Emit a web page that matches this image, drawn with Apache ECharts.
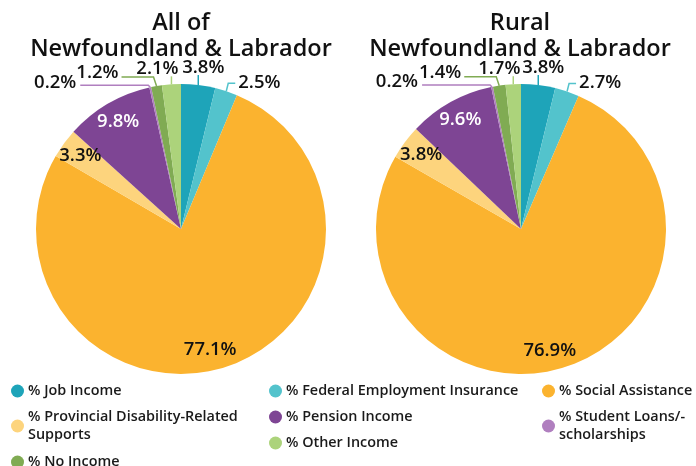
<!DOCTYPE html>
<html>
<head>
<meta charset="utf-8">
<script src="https://cdn.jsdelivr.net/npm/echarts@6/dist/echarts.min.js"></script>
<style>
  html, body { margin: 0; padding: 0; background: #fff; }
  #chart { width: 696px; height: 466px; }
</style>
</head>
<body>
<div id="chart"></div>
<script>
// Income source shares (percent of people) for two regions
const categories = [
  '% Job Income',
  '% Federal Employment Insurance',
  '% Social Assistance',
  '% Provincial Disability-Related Supports',
  '% Pension Income',
  '% Student Loans/-scholarships',
  '% No Income',
  '% Other Income'
];
const allNL = [3.8, 2.5, 77.1, 3.3, 9.8, 0.2, 1.2, 2.1];
const ruralNL = [3.8, 2.7, 76.9, 3.8, 9.6, 0.2, 1.4, 1.7];
const titles = ['All of\nNewfoundland & Labrador', 'Rural\nNewfoundland & Labrador'];

const colors = ['#1ea4b9', '#53c3cc', '#fbb32f', '#fdd47d', '#7e4594', '#b07fbf', '#80ab53', '#acd37b'];
const legendText = {
  '% Provincial Disability-Related Supports': '% Provincial Disability-Related\nSupports',
  '% Student Loans/-scholarships': '% Student Loans/-\nscholarships'
};

const FONT = '"Open Sans", "Noto Sans", sans-serif';
const R = 145;
const centers = [[181, 229], [521, 229]];
const titleX = [176, 515];
const seriesValues = [allNL, ruralNL];

// labels drawn inside the big slices: radial position and small angular nudge (degrees)
const insideStyle = {
  2: { ratio: 0.86, turn: 5 },
  3: { ratio: 0.86, turn: 0 },
  4: { ratio: 0.86, turn: 0 }
};

// leader-line styling for the small outer slices:
// rise = vertical run from the rim, dir/len = horizontal run, then label placement
const calloutStyle = {
  0: { rise: 10, slant: 0, dir: 0, len: 0, dx: 5, dy: 2, align: 'center', va: 'bottom' },
  1: { rise: 8, slant: 2, dir: 1, len: 7, dx: 3, dy: -1, align: 'left', va: 'middle' },
  5: { rise: 2, slant: -2, dir: -1, len: 68, dx: -4, dy: -3, align: 'right', va: 'middle' },
  6: { rise: 9, slant: -3, dir: -1, len: 32, dx: -3, dy: -4, align: 'right', va: 'middle' },
  7: { rise: 8, slant: 0, dir: 0, len: 0, dx: -14, dy: 2, align: 'center', va: 'bottom' }
};

function midAngle(vals, i) {
  const total = vals.reduce((a, b) => a + b, 0);
  let before = 0;
  for (let k = 0; k < i; k++) before += vals[k];
  return (before + vals[i] / 2) / total * Math.PI * 2;
}

function makeSeries(vals, s) {
  return {
    type: 'pie',
    center: centers[s],
    radius: R,
    startAngle: 90,
    clockwise: true,
    avoidLabelOverlap: false,
    animation: false,
    data: categories.map((name, i) => {
      const inside = insideStyle[i] !== undefined;
      return {
        name: name,
        value: vals[i],
        itemStyle: { color: colors[i] },
        label: inside ? {
          position: 'inside',
          color: i === 4 ? '#ffffff' : '#111111'
        } : { position: 'outside', color: '#111111' },
        labelLine: inside ? { show: false } : {
          show: true,
          length: 8,
          length2: 10,
          lineStyle: { color: colors[i], width: 1.5 }
        }
      };
    }),
    label: {
      show: true,
      formatter: p => p.value.toFixed(1) + '%',
      fontFamily: FONT,
      fontSize: 18.5,
      fontWeight: 600
    },
    labelLayout: function (p) {
      const i = p.dataIndex;
      const a = midAngle(seriesValues[s], i);
      const c = centers[s];
      const ins = insideStyle[i];
      if (ins) {
        const b = a + ins.turn * Math.PI / 180;
        return {
          x: c[0] + R * ins.ratio * Math.sin(b),
          y: c[1] - R * ins.ratio * Math.cos(b)
        };
      }
      const st = calloutStyle[i];
      const ex = c[0] + R * Math.sin(a);
      const ey = c[1] - R * Math.cos(a);
      const kx = ex + st.slant;
      const ky = ey - st.rise;
      const tx = kx + st.dir * st.len;
      const ty = ky;
      return {
        x: tx + st.dx,
        y: ty + st.dy,
        align: st.align,
        verticalAlign: st.va,
        labelLinePoints: [[ex, ey], [kx, ky], [tx, ty]]
      };
    }
  };
}

// one legend block per entry, laid out in three columns
const legendSlots = [
  { left: 11, top: 382 },
  { left: 269, top: 382 },
  { left: 542, top: 382 },
  { left: 11, top: 408 },
  { left: 269, top: 408 },
  { left: 542, top: 408 },
  { left: 11, top: 453 },
  { left: 269, top: 434 }
];

const legends = categories.map((name, i) => ({
  data: [name],
  left: legendSlots[i].left,
  top: legendSlots[i].top,
  icon: 'circle',
  itemWidth: 13,
  itemHeight: 13,
  itemGap: 6,
  selectedMode: false,
  padding: 0,
  formatter: n => legendText[n] || n,
  textStyle: {
    fontFamily: FONT,
    fontSize: 14.4,
    fontWeight: 600,
    color: '#1a1a1a',
    lineHeight: 18,
    padding: [0, 0, 0, -1]
  }
}));

const chart = echarts.init(document.getElementById('chart'), null, { renderer: 'canvas' });
chart.setOption({
  animation: false,
  title: titles.map((t, s) => ({
    text: t,
    left: titleX[s],
    top: 5,
    textAlign: 'center',
    textStyle: {
      fontFamily: FONT,
      fontSize: 23.5,
      fontWeight: 600,
      color: '#111111',
      lineHeight: 26
    }
  })),
  legend: legends,
  series: [makeSeries(allNL, 0), makeSeries(ruralNL, 1)]
});
</script>
</body>
</html>
